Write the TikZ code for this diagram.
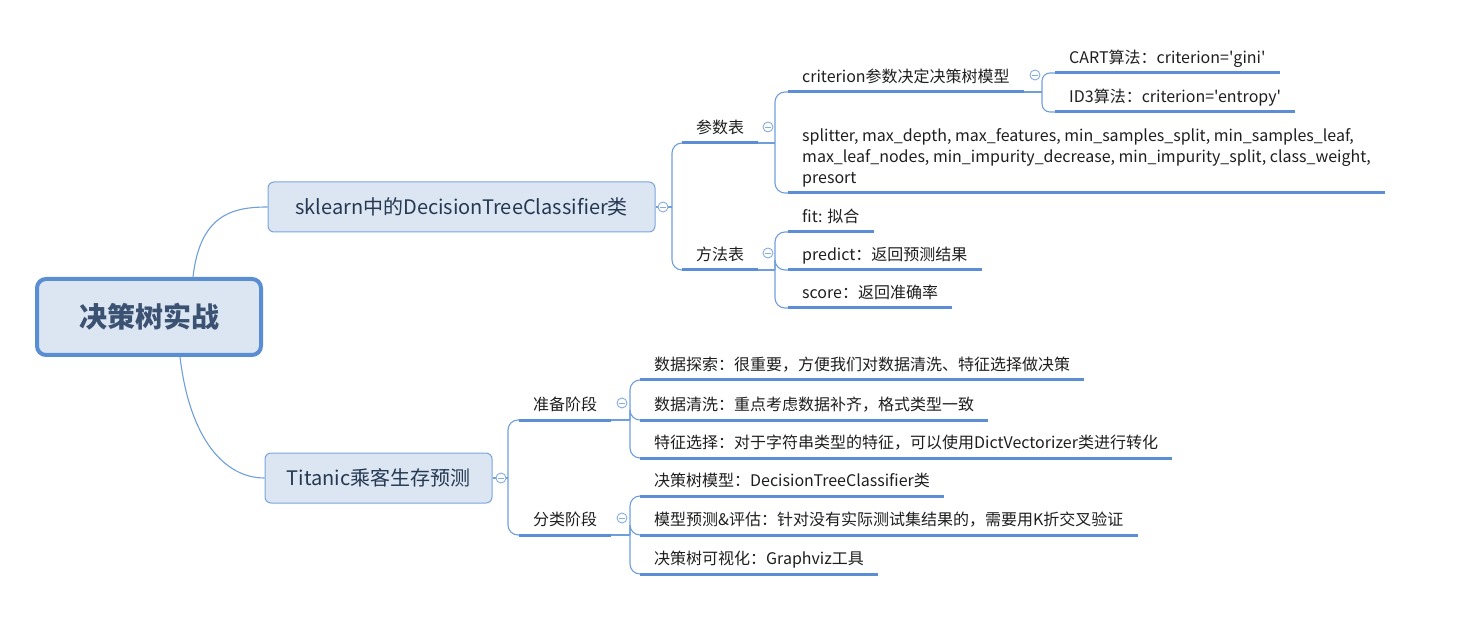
\documentclass[tikz,border=0pt]{standalone}
\usepackage{fontspec}
\setmainfont{Noto Sans CJK SC}
\newfontfamily\plainq{Noto Sans CJK SC}[Ligatures=ResetAll]
\definecolor{lineblue}{HTML}{6F9FDB}
\definecolor{ublue}{HTML}{5B8ED5}
\definecolor{cblue}{HTML}{86ACDF}
\definecolor{boxfill}{HTML}{DCE6F2}
\definecolor{boxborder}{HTML}{7BA4DB}
\definecolor{rootborder}{HTML}{5A8ED2}
\definecolor{boxtext}{HTML}{263852}
\definecolor{roottext}{HTML}{3B5272}
\definecolor{txt}{HTML}{1E1E1E}
\begin{document}
\begin{tikzpicture}[x=1pt,y=-1pt,
  conn/.style={draw=lineblue, line width=1.1pt},
  bracket/.style={conn, rounded corners=10pt},
  uline/.style={draw=ublue, line width=3pt},
  leaf/.style={anchor=south west, inner xsep=14pt, inner ysep=9pt, text depth=0pt,
    font=\fontsize{16}{21}\selectfont, text=txt, align=left},
  topic/.style={rectangle, rounded corners=6pt, draw=boxborder, fill=boxfill, line width=1pt,
    font=\fontsize{20}{24}\selectfont, text=boxtext, minimum height=50pt, inner sep=0pt},
  collapse/.style={circle, draw=cblue, fill=white, line width=0.9pt, minimum size=10pt, inner sep=0pt,
    path picture={\draw[cblue, line width=0.9pt] ([xshift=-2.6pt]path picture bounding box.center) -- ([xshift=2.6pt]path picture bounding box.center);}}
]
\useasboundingbox (0,0) rectangle (1468,636);

% central topic
\node[rectangle, rounded corners=9pt, draw=rootborder, fill=boxfill, line width=4pt,
  minimum width=224pt, minimum height=76pt, text=roottext,
  font=\fontsize{28}{32}\selectfont\bfseries] (root) at (149,317) {决策树实战};

% main topics
\node[topic, minimum width=387pt] (sk) at (461.5,207) {sklearn中的DecisionTreeClassifier类};
\node[topic, minimum width=227pt] (ti) at (378.5,478) {Titanic乘客生存预测};

\draw[conn] ([xshift=44pt]root.north) .. controls (200,215) and (232,207) .. (sk.west);
\draw[conn] ([xshift=31pt]root.south) .. controls (190,440) and (225,478) .. (ti.west);

% ---------- sklearn branch ----------
\coordinate (j1) at (672,207);
\node[leaf] (p) at (682,143) {参数表};
\node[leaf] (m) at (682,270) {方法表};
\draw[conn] (sk.east) -- (j1);
\draw[bracket] (j1) |- (p.south west);
\draw[bracket] (j1) |- (m.south west);

% 参数表 children
\coordinate (j2) at (775,143);
\node[leaf] (crit) at (788,92) {criterion参数决定决策树模型};
\node[leaf] (rest) at (788,193) {splitter, max\_depth, max\_features, min\_samples\_split, min\_samples\_leaf,\\max\_leaf\_nodes, min\_impurity\_decrease, min\_impurity\_split, class\_weight,\\presort};
\draw[conn] (p.south east) -- (j2);
\draw[bracket] (j2) |- (crit.south west);
\draw[bracket] (j2) |- (rest.south west);

% criterion children
\coordinate (j4) at (1042,92);
\node[leaf, font=\fontsize{16}{21}\selectfont\plainq] (cart) at (1055,73) {CART算法：criterion='gini'};
\node[leaf, font=\fontsize{16}{21}\selectfont\plainq] (id3) at (1055,112) {ID3算法：criterion='entropy'};
\draw[conn] (crit.south east) -- (j4);
\draw[conn, rounded corners=8pt] (j4) |- (cart.south west);
\draw[conn, rounded corners=8pt] (j4) |- (id3.south west);

% 方法表 children
\coordinate (j3) at (775,270);
\node[leaf] (fit) at (788,232) {fit: 拟合};
\node[leaf] (pred) at (788,270) {predict：返回预测结果};
\node[leaf] (score) at (788,308) {score：返回准确率};
\draw[conn] (m.south east) -- (j3);
\draw[bracket] (j3) |- (fit.south west);
\draw[bracket] (j3) |- (pred.south west);
\draw[bracket] (j3) |- (score.south west);

% ---------- Titanic branch ----------
\coordinate (j5) at (508,478);
\node[leaf] (prep) at (519,420) {准备阶段};
\node[leaf] (cls) at (519,535) {分类阶段};
\draw[conn] (ti.east) -- (j5);
\draw[bracket] (j5) |- (prep.south west);
\draw[bracket] (j5) |- (cls.south west);

\coordinate (j6) at (630,420);
\node[leaf] (d1) at (640,380) {数据探索：很重要，方便我们对数据清洗、特征选择做决策};
\node[leaf] (d2) at (640,420) {数据清洗：重点考虑数据补齐，格式类型一致};
\node[leaf] (d3) at (640,458) {特征选择：对于字符串类型的特征，可以使用DictVectorizer类进行转化};
\draw[conn] (prep.south east) -- (j6);
\draw[bracket] (j6) |- (d1.south west);
\draw[bracket] (j6) |- (d2.south west);
\draw[bracket] (j6) |- (d3.south west);

\coordinate (j7) at (630,535);
\node[leaf] (c1) at (640,496) {决策树模型：DecisionTreeClassifier类};
\node[leaf] (c2) at (640,535) {模型预测\&评估：针对没有实际测试集结果的，需要用K折交叉验证};
\node[leaf] (c3) at (640,574) {决策树可视化：Graphviz工具};
\draw[conn] (cls.south east) -- (j7);
\draw[bracket] (j7) |- (c1.south west);
\draw[bracket] (j7) |- (c2.south west);
\draw[bracket] (j7) |- (c3.south west);

% underlines
\foreach \n in {p,m,crit,rest,cart,id3,fit,pred,score,prep,cls,d1,d2,d3,c1,c2,c3}
  \draw[uline] (\n.south west) -- (\n.south east);

% collapse markers
\node[collapse] at (663,207) {};
\node[collapse] at (768,127) {};
\node[collapse] at (768,253) {};
\node[collapse] at (1035,75) {};
\node[collapse] at (501,478) {};
\node[collapse] at (622,403) {};
\node[collapse] at (622,518) {};
\end{tikzpicture}
\end{document}
